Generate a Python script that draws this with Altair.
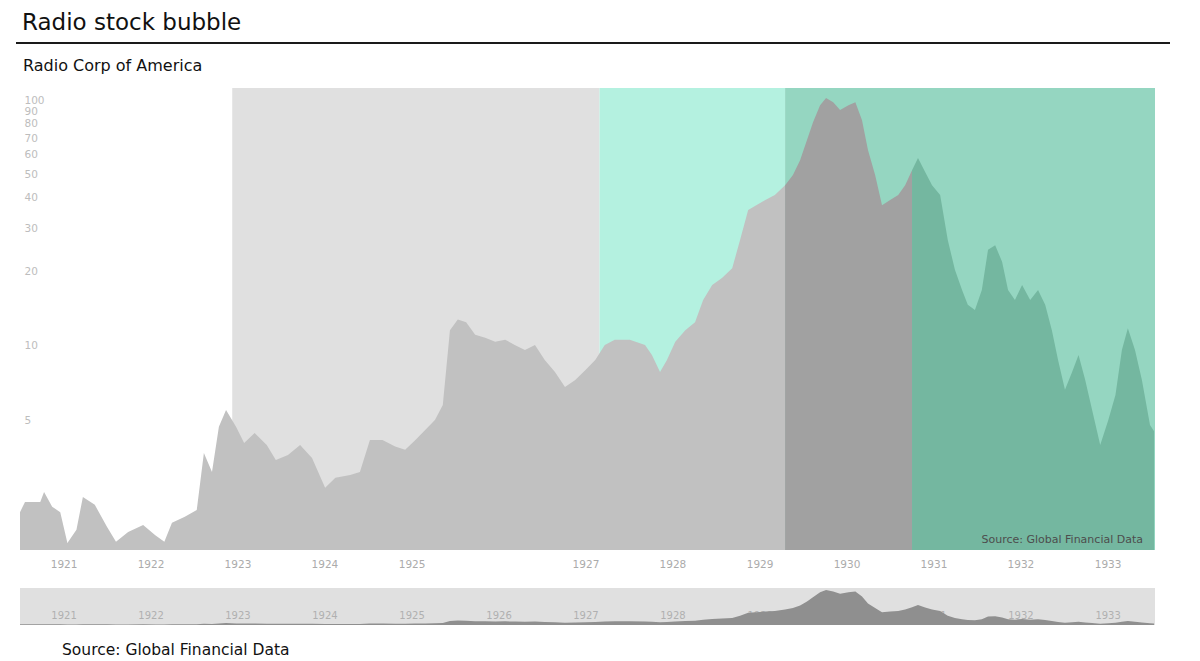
import altair as alt
import pandas as pd

TITLE = "Radio stock bubble"
SUBTITLE = "Radio Corp of America"
SOURCE = "Source: Global Financial Data"

# RCA share price (log scale)
dates = [
    "1920-07-02", "1920-07-23", "1920-09-25", "1920-10-11", "1920-11-14", "1920-12-18",
    "1921-01-17", "1921-02-24", "1921-03-23", "1921-05-12", "1921-07-02", "1921-08-09", "1921-09-29", "1921-12-01",
    "1922-01-21", "1922-02-28", "1922-04-01", "1922-05-25", "1922-07-14", "1922-08-13", "1922-09-16", "1922-10-15", "1922-11-14", "1922-12-26",
    "1923-01-29", "1923-03-14", "1923-05-04", "1923-06-11", "1923-08-01", "1923-09-21", "1923-11-10",
    "1924-01-04", "1924-02-16", "1924-04-18", "1924-05-29", "1924-07-10", "1924-09-01", "1924-10-24", "1924-12-05",
    "1925-01-17", "1925-02-28", "1925-04-09", "1925-05-12", "1925-06-11", "1925-07-14", "1925-08-18", "1925-09-25", "1925-11-06", "1925-12-18",
    "1926-01-29", "1926-03-10", "1926-04-22", "1926-06-03", "1926-07-14", "1926-08-26", "1926-10-07", "1926-11-19",
    "1927-01-01", "1927-02-11", "1927-03-23", "1927-05-04", "1927-07-06", "1927-09-08", "1927-10-07", "1927-11-10", "1927-12-09",
    "1928-01-13", "1928-02-24", "1928-04-05", "1928-05-09", "1928-06-16", "1928-07-27", "1928-09-08", "1928-10-11", "1928-11-14", "1928-12-18",
    "1929-01-25", "1929-03-06", "1929-04-18", "1929-05-21", "1929-06-20", "1929-07-19", "1929-08-13", "1929-09-12", "1929-10-07", "1929-11-06", "1929-12-05",
    "1930-01-09", "1930-02-07", "1930-03-07", "1930-04-01", "1930-05-01", "1930-05-30", "1930-07-03", "1930-08-06", "1930-09-04", "1930-10-03", "1930-10-28", "1930-11-27", "1930-12-26",
    "1931-01-29", "1931-03-02", "1931-04-01", "1931-05-01", "1931-05-25", "1931-06-24", "1931-07-23", "1931-08-18", "1931-09-17", "1931-10-16", "1931-11-10", "1931-12-09",
    "1932-01-08", "1932-02-11", "1932-03-15", "1932-04-14", "1932-05-12", "1932-06-07", "1932-07-06", "1932-08-05", "1932-09-01", "1932-09-29", "1932-10-28", "1932-12-01",
    "1933-01-04", "1933-02-03", "1933-03-02", "1933-03-27", "1933-04-26", "1933-05-25", "1933-06-28", "1933-07-15",
]
prices = [
    2.11, 2.32, 2.32, 2.55, 2.22, 2.11,
    1.58, 1.79, 2.43, 2.26, 1.84, 1.60, 1.75, 1.87,
    1.70, 1.60, 1.91, 2.02, 2.15, 3.67, 3.07, 4.69, 5.49, 4.69,
    4.03, 4.43, 3.96, 3.44, 3.60, 3.96, 3.50,
    2.65, 2.91, 2.99, 3.07, 4.15, 4.15, 3.90, 3.78,
    4.15, 4.56, 5.00, 5.76, 11.6, 12.8, 12.5, 11.1, 10.8, 10.4,
    10.6, 10.1, 9.63, 10.1, 8.77, 7.84, 6.81, 7.27,
    7.99, 8.77, 10.1, 10.6, 10.6, 10.1, 9.19, 7.84, 8.77,
    10.4, 11.6, 12.5, 15.4, 17.7, 18.9, 20.7, 27.0, 35.7, 37.4,
    39.2, 41.1, 45.1, 49.6, 57.0, 68.8, 81.0, 95.4, 101.9, 98.0, 91.1,
    95.4, 98.0, 82.9, 62.6, 49.6, 37.4, 39.2, 41.1, 45.1, 51.9, 58.1, 51.0, 45.1,
    41.1, 27.0, 20.4, 16.9, 14.7, 14.0, 16.9, 24.6, 25.7, 22.0, 16.9, 15.4,
    17.7, 15.4, 16.9, 14.7, 11.6, 8.77, 6.63, 7.84, 9.19, 7.27, 5.49, 3.96,
    5.00, 6.32, 9.63, 11.8, 9.63, 7.27, 4.77, 4.50,
]

# phases of the price area
phase_breaks = ["1929-04-18", "1930-10-03"]
phase_names = ["run-up", "peak", "bust"]
phase_colors = ["#c1c1c1", "#a1a1a1", "#74b7a0"]

# background bands
band_start = ["1922-12-10", "1927-03-01", "1929-04-18"]
band_end = ["1927-03-01", "1929-04-18", "1933-07-19"]
band_color = ["#e0e0e0", "#b4f1e0", "#95d6c1"]

y_ticks = [5, 10, 20, 30, 40, 50, 60, 70, 80, 90, 100]
x_tick_years = [1921, 1922, 1923, 1924, 1925, 1927, 1928, 1929, 1930, 1931, 1932, 1933]
nav_tick_years = [1921, 1922, 1923, 1924, 1925, 1926, 1927, 1928, 1929, 1930, 1931, 1932, 1933]
y_domain = [1.48, 112]
nav_domain = [0, 108]

W, H = 1135, 462
FONT = "DejaVu Sans"

rows = []
for d, p in zip(dates, prices):
    if d <= phase_breaks[0]:
        rows.append({"date": d, "price": p, "phase": phase_names[0]})
    if phase_breaks[0] <= d <= phase_breaks[1]:
        rows.append({"date": d, "price": p, "phase": phase_names[1]})
    if d >= phase_breaks[1]:
        rows.append({"date": d, "price": p, "phase": phase_names[2]})
df = pd.DataFrame(rows)
nav_df = pd.DataFrame({"date": dates, "price": prices})
bands = pd.DataFrame({"start": band_start, "end": band_end, "c": band_color})

xscale = alt.Scale(
    type="utc",
    domain=[alt.DateTime(year=1920, month=7, date=2, utc=True),
            alt.DateTime(year=1933, month=7, date=19, utc=True)],
)

xaxis = alt.Axis(
    values=[alt.DateTime(year=y, month=1, date=1, utc=True) for y in x_tick_years],
    format="%Y", title=None, domain=False, ticks=False, tickSize=0, grid=False,
    labelPadding=9, labelColor="#ababab", labelFontSize=10.5, labelFont=FONT,
    labelOverlap=False, zindex=1,
)
yaxis = alt.Axis(
    values=y_ticks, format="d", title=None, domain=False, ticks=False, tickSize=0,
    grid=False, labelAlign="left", labelBaseline="middle", labelPadding=-4,
    labelColor="#bdbdbd", labelFontSize=10.5, labelFont=FONT, labelOverlap=False,
    zindex=1,
)

band_layer = alt.Chart(bands).mark_rect().encode(
    x=alt.X("start:T", scale=xscale, axis=xaxis),
    x2="end:T",
    y=alt.value(0),
    y2=alt.value(H),
    fill=alt.Fill("c:N", scale=None, legend=None),
)

area_layer = alt.Chart(df).mark_area(interpolate="linear").encode(
    x=alt.X("date:T", scale=xscale, axis=xaxis),
    y=alt.Y("price:Q", scale=alt.Scale(type="log", domain=y_domain), axis=yaxis, stack=None),
    y2=alt.datum(y_domain[0]),
    color=alt.Color("phase:N", scale=alt.Scale(domain=phase_names, range=phase_colors), legend=None),
)

title_layer = alt.Chart(pd.DataFrame({"t": [TITLE]})).mark_text(
    align="left", baseline="alphabetic", font=FONT, fontSize=23, color="#111111"
).encode(x=alt.value(2), y=alt.value(-58), text="t:N")

subtitle_layer = alt.Chart(pd.DataFrame({"t": [SUBTITLE]})).mark_text(
    align="left", baseline="alphabetic", font=FONT, fontSize=16, color="#111111"
).encode(x=alt.value(3), y=alt.value(-17), text="t:N")

rule_layer = alt.Chart(pd.DataFrame({"k": [0]})).mark_rule(
    color="#1a1a1a", strokeWidth=2
).encode(x=alt.value(-4), x2=alt.value(1150), y=alt.value(-45))

caption_layer = alt.Chart(pd.DataFrame({"t": [SOURCE]})).mark_text(
    align="right", baseline="alphabetic", font=FONT, fontSize=11, color="#4d4d4d"
).encode(x=alt.value(1123), y=alt.value(455), text="t:N")

main = alt.layer(
    band_layer, area_layer, caption_layer, title_layer, subtitle_layer, rule_layer
).properties(width=W, height=H)

navaxis = alt.Axis(
    values=[alt.DateTime(year=y, month=1, date=1, utc=True) for y in nav_tick_years],
    format="%Y", title=None, domain=False, ticks=False, tickSize=0, grid=False,
    labelPadding=-10, labelBaseline="middle", labelColor="#b0b0b0",
    labelFontSize=10, labelFont=FONT, labelOverlap=False,
)

nav_area = alt.Chart(nav_df).mark_area(color="#8f8f8f", interpolate="linear").encode(
    x=alt.X("date:T", scale=xscale, axis=navaxis),
    y=alt.Y("price:Q", scale=alt.Scale(domain=nav_domain), axis=None),
)
footer = alt.Chart(pd.DataFrame({"t": [SOURCE]})).mark_text(
    align="left", baseline="alphabetic", font=FONT, fontSize=15.5, color="#111111"
).encode(x=alt.value(42), y=alt.value(67), text="t:N")

nav = alt.layer(nav_area, footer).properties(
    width=W, height=37, view=alt.ViewBackground(fill="#e0e0e0", stroke=None)
)

chart = alt.vconcat(main, nav, spacing=38, bounds="flush").properties(
    padding={"left": 7, "top": 4, "right": 5, "bottom": 5},
    autosize=alt.AutoSizeParams(type="pad"),
).configure(font=FONT).configure_view(stroke=None, strokeWidth=0)

chart.save("out.html", embed_options={"renderer": "svg", "actions": False})
